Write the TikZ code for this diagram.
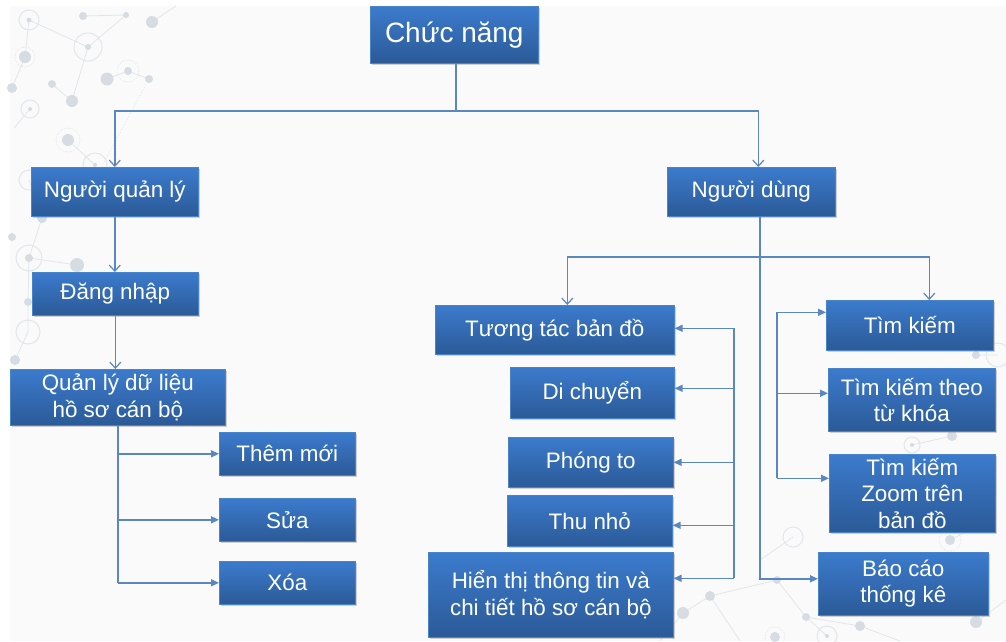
\documentclass[tikz,border=0pt]{standalone}
\usepackage{fontspec}
\setmainfont{Liberation Sans}
\usetikzlibrary{arrows.meta,shadows}
\definecolor{bg}{HTML}{FAFAFA}
\definecolor{boxtop}{HTML}{3C7BCD}
\definecolor{boxbot}{HTML}{2B5A97}
\definecolor{boxedge}{HTML}{4A84C8}
\definecolor{wirec}{HTML}{5A86C2}
\definecolor{netdot}{HTML}{D6DCE1}
\definecolor{netline}{HTML}{E2E6EA}

\begin{document}
\begin{tikzpicture}[x=1pt,y=-1pt,
  box/.style={rectangle, anchor=north west, top color=boxtop, bottom color=boxbot,
    draw=boxedge, line width=0.6pt, text=white, align=center, inner sep=1pt,
    font=\fontsize{22.4}{26.5}\selectfont,
    drop shadow={opacity=0.35, shadow xshift=1.5pt, shadow yshift=-2pt}},
  wire/.style={draw=wirec, line width=1.4pt},
  down/.style={wire, -{Straight Barb[length=6pt,width=11pt,line width=1.2pt]}},
  side/.style={wire, -{Triangle[length=8pt,width=7pt]}},
  dot/.style={fill=netdot},
  ring/.style={draw=netline, line width=1pt},
  dring/.style={draw=netline, line width=0.8pt, dash pattern=on 1pt off 1.5pt},
  link/.style={draw=netline, line width=0.8pt}]

% canvas
\fill[white] (0,0) rectangle (1006,641);
\fill[bg] (10,6) rectangle (1006,641);
\useasboundingbox (0,0) rectangle (1006,641);

% faint network pattern, upper left
\begin{scope}
  \path[link] (29,20) -- (88,47) -- (126,15) (83,16) -- (126,15)
    (88,47) -- (72,101) -- (52,84) (107,79) -- (128,71) -- (149,79)
    (25,57) -- (12,88) (30,109) -- (14,128) (68,140) -- (95,165)
    (152,22) -- (176,6) (29,20) -- (25,57) (29,180) -- (42,218) -- (29,258) -- (77,265)
    (29,258) -- (28,302) -- (28,332) -- (15,360);
  \path[link, dash pattern=on 1pt off 2pt] (149,79) -- (100,170);
  \draw[ring] (29,20) circle (10) (88,47) circle (14) (30,109) circle (9)
    (95,165) circle (12) (29,180) circle (10) (29,258) circle (13) (28,332) circle (12);
  \draw[dring] (25,57) circle (10) (128,71) circle (11) (68,140) circle (12);
  \fill[dot] (29,20) circle (2.5) (83,16) circle (4) (126,15) circle (3) (152,22) circle (6)
    (88,47) circle (3) (25,57) circle (6) (128,71) circle (4) (107,79) circle (6.5)
    (149,79) circle (4) (52,84) circle (4) (72,101) circle (6) (30,109) circle (2)
    (68,140) circle (6) (95,165) circle (2) (12,88) circle (5) (42,218) circle (5)
    (29,258) circle (4) (77,265) circle (7) (12,237) circle (4) (28,302) circle (4)
    (15,360) circle (5);
\end{scope}

% faint network pattern, lower right
\begin{scope}
  \path[link] (660,641) -- (683,613) -- (710,596) -- (777,580) -- (806,617) -- (860,626)
    (710,596) -- (740,641) (806,617) -- (827,636) (860,626) -- (900,641)
    (976,622) -- (1006,600) (976,355) -- (998,355) (952,436) -- (912,445)
    (793,537) -- (760,560) (950,540) -- (990,520) (988,600) -- (976,622);
  \draw[ring] (827,636) circle (10) (998,355) circle (12) (912,445) circle (8)
    (793,537) circle (10);
  \draw[dring] (775,637) circle (10) (950,540) circle (11);
  \fill[dot] (683,613) circle (6) (710,596) circle (5) (777,580) circle (4)
    (806,617) circle (4) (860,626) circle (5) (827,636) circle (2) (775,637) circle (5)
    (976,622) circle (6) (976,355) circle (4) (952,436) circle (5) (912,445) circle (2)
    (950,540) circle (5);
\end{scope}

% boxes
\node[box, font=\fontsize{28}{32}\selectfont, minimum width=168, minimum height=57] (cn) at (370,6) {Chức năng};

\node[box, minimum width=167, minimum height=49] (nql) at (31,167) {Người quản lý};
\node[box, minimum width=166, minimum height=43] (dn)  at (32,272) {Đăng nhập};
\node[box, minimum width=215, minimum height=56, inner sep=0pt] (qld) at (10,369) {Quản lý dữ liệu\\hồ sơ cán bộ};
\node[box, minimum width=136, minimum height=43] (tm)  at (219,432) {Thêm mới};
\node[box, minimum width=136, minimum height=43] (sua) at (219,498) {Sửa};
\node[box, minimum width=136, minimum height=43] (xoa) at (219,561) {Xóa};

\node[box, minimum width=168, minimum height=49] (nd)  at (667,167) {Người dùng};
\node[box, minimum width=239, minimum height=49] (tt)  at (435,305) {Tương tác bản đồ};
\node[box, minimum width=164, minimum height=51] (dc)  at (510,367) {Di chuyển};
\node[box, minimum width=165, minimum height=50] (pt)  at (508,437) {Phóng to};
\node[box, minimum width=165, minimum height=51] (tn)  at (507,495) {Thu nhỏ};
\node[box, minimum width=245, minimum height=85] (ht)  at (428,552) {Hiển thị thông tin và\\chi tiết hồ sơ cán bộ};

\node[box, minimum width=167, minimum height=50] (tk)  at (826,300) {Tìm kiếm};
\node[box, minimum width=167, minimum height=63] (tk2) at (828,368) {Tìm kiếm theo\\từ khóa};
\node[box, minimum width=166, minimum height=78, inner sep=0pt] (tk3) at (829,454) {Tìm kiếm\\Zoom trên\\bản đồ};
\node[box, minimum width=170, minimum height=63] (bc)  at (818,552) {Báo cáo\\thống kê};

% top split
\coordinate (j1) at (456,111);
\draw[wire] (cn.south -| j1) -- (j1);
\draw[down] (j1) -| (nql.north);
\draw[down] (j1) -| ([xshift=7pt]nd.north);

% manager branch
\draw[down] (nql.south) -- (nql.south |- dn.north);
\draw[down] (dn.south) -- (dn.south |- qld.north);
\coordinate (lb) at (118,0);
\draw[wire] (qld.south -| lb) -- (xoa.west -| lb);
\draw[side] (tm.west -| lb) -- (tm.west);
\draw[side] (sua.west -| lb) -- (sua.west);
\draw[side] (xoa.west -| lb) -- (xoa.west);

% user branch
\coordinate (rb) at (760,0);
\coordinate (j2) at (760,257);
\draw[side] (nd.south -| rb) |- ([yshift=5pt]bc.west);
\draw[wire] ([xshift=12.5pt]tt.north |- j2) -- ([xshift=19.5pt]tk.north |- j2);
\draw[down] (j2) -| ([xshift=12.5pt]tt.north);
\draw[down] (j2) -| ([xshift=19.5pt]tk.north);

% map interaction bus
\coordinate (mb) at (734,0);
\draw[wire] ([yshift=1.5pt]tt.east -| mb) -- ([yshift=16.5pt]ht.east -| mb);
\draw[side] ([yshift=1.5pt]tt.east -| mb) -- ([yshift=1.5pt]tt.east);
\draw[side] ([yshift=4.5pt]dc.east -| mb) -- ([yshift=4.5pt]dc.east);
\draw[side] (pt.east -| mb) -- (pt.east);
\draw[side] ([yshift=-4.5pt]tn.east -| mb) -- ([yshift=-4.5pt]tn.east);
\draw[side] ([yshift=16.5pt]ht.east -| mb) -- ([yshift=16.5pt]ht.east);

% search bus
\coordinate (kb) at (777,0);
\draw[wire] ([yshift=13pt]tk.west -| kb) -- ([yshift=15pt]tk3.west -| kb);
\draw[side] ([yshift=13pt]tk.west -| kb) -- ([yshift=13pt]tk.west);
\draw[side] ([yshift=6.5pt]tk2.west -| kb) -- ([yshift=6.5pt]tk2.west);
\draw[side] ([yshift=15pt]tk3.west -| kb) -- ([yshift=15pt]tk3.west);
\end{tikzpicture}
\end{document}
